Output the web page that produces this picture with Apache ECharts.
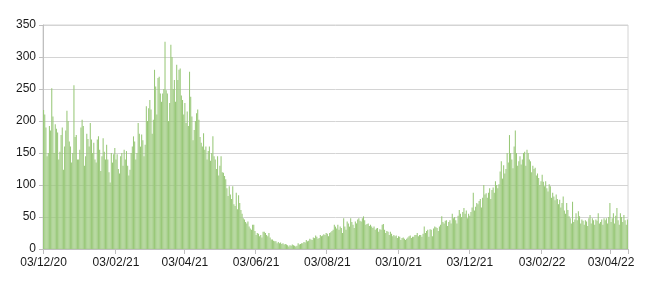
<!DOCTYPE html>
<html>
<head>
<meta charset="utf-8">
<script src="https://cdn.jsdelivr.net/npm/echarts@6/dist/echarts.min.js"></script>
<style>html,body{margin:0;padding:0;background:#fff}#c{width:650px;height:284px}</style>
</head>
<body>
<div id="c"></div>
<script>
// First date of the daily series and the dates whose labels are shown
var startDate = [2020, 12, 3];
var tickLabels = ['03/12/20','03/02/21','03/04/21','03/06/21','03/08/21','03/10/21','03/12/21','03/02/22','03/04/22'];
var yTicks = [0, 50, 100, 150, 200, 250, 300, 350];

// Daily values (03/12/20 .. 17/04/22)
var values = [
217,210,190,145,150,192,185,251,207,150,
195,188,182,140,152,178,190,124,160,185,
216,200,168,160,135,150,256,175,178,140,
140,155,190,202,192,130,145,180,172,160,
197,171,150,166,140,135,171,176,155,122,
145,173,152,140,163,140,120,104,150,135,
148,158,140,148,125,118,145,150,130,155,
140,153,130,115,124,150,160,176,168,140,
150,197,180,160,179,170,145,163,223,200,
220,233,218,180,202,280,254,210,267,269,
243,230,243,250,324,248,243,200,228,319,
300,250,264,230,288,264,280,282,240,233,
210,228,197,215,192,277,238,207,170,186,
200,212,218,202,175,166,160,181,155,160,
140,153,160,138,150,176,145,140,125,145,
115,130,145,120,119,114,109,95,83,98,
85,78,98,70,67,88,62,84,72,61,
55,48,46,42,40,43,35,32,30,38,
38,28,22,25,24,20,22,18,27,27,
25,22,20,25,18,15,15,13,12,12,
9,11,9,10,8,9,7,8,7,6,
4,6,5,7,6,5,4,5,9,7,
8,9,9,11,10,14,12,13,16,15,
14,18,17,21,19,16,17,22,20,21,
23,22,25,24,20,25,26,28,30,38,
35,32,38,30,35,33,25,48,35,30,
43,40,35,48,42,38,33,43,40,46,
48,44,43,48,51,45,38,39,40,36,
38,35,33,35,30,32,33,27,31,30,
38,39,30,25,28,27,22,27,24,20,
22,20,21,17,20,19,14,17,18,16,
14,16,18,20,21,17,19,19,22,22,
25,20,22,22,19,24,35,25,28,30,
19,31,30,20,32,35,34,33,28,35,
38,51,42,40,44,45,36,42,45,40,
55,48,50,45,40,52,61,55,50,58,
64,55,60,48,55,52,58,65,88,60,
66,72,70,75,78,65,80,100,85,87,
80,88,95,78,92,96,88,106,100,95,
101,121,137,110,131,118,125,150,135,178,
150,140,126,160,185,150,130,137,145,132,
140,150,152,130,155,150,140,137,120,130,
125,127,115,118,111,100,106,116,105,98,
106,95,90,101,98,80,88,82,76,85,
78,70,77,65,72,82,60,55,72,61,
51,48,40,74,42,46,56,45,59,51,
40,46,44,38,45,43,36,48,53,40,
48,45,38,46,44,56,40,42,46,38,
48,45,48,40,50,72,42,48,56,40,
52,64,45,38,56,50,42,53,45,38,
46
];

function pad(n){return (n<10?'0':'')+n;}
var categories = [];
(function(){
  var d = new Date(Date.UTC(startDate[0], startDate[1]-1, startDate[2]));
  for (var i = 0; i < values.length; i++) {
    categories.push(pad(d.getUTCDate())+'/'+pad(d.getUTCMonth()+1)+'/'+String(d.getUTCFullYear()).slice(2));
    d.setUTCDate(d.getUTCDate()+1);
  }
})();
function isTick(idx, val){ return tickLabels.indexOf(categories[idx]) >= 0; }

var chart = echarts.init(document.getElementById('c'), null, {renderer:'canvas'});
chart.setOption({
  animation: false,
  backgroundColor: '#ffffff',
  grid: {left: 43, right: 22, top: 25, bottom: 35, show: true, borderColor: '#d4d4d4', borderWidth: 1},
  xAxis: {
    type: 'category',
    data: categories,
    boundaryGap: true,
    axisLine: {lineStyle: {color: '#bfbfbf', width: 1}},
    axisTick: {show: true, interval: isTick, length: 5, lineStyle: {color: '#bfbfbf'}},
    axisLabel: {interval: isTick, color: '#1a1a1a', fontFamily: 'Liberation Sans', fontSize: 12, margin: 8, hideOverlap: false},
    splitLine: {show: false}
  },
  yAxis: {
    type: 'value',
    min: yTicks[0], max: yTicks[yTicks.length-1], interval: 50,
    axisLine: {show: true, lineStyle: {color: '#bfbfbf'}},
    axisTick: {show: true, length: 4, lineStyle: {color: '#bfbfbf'}},
    axisLabel: {color: '#1a1a1a', fontFamily: 'Liberation Sans', fontSize: 12, margin: 7},
    splitLine: {lineStyle: {color: '#d4d4d4', width: 1}}
  },
  series: [{
    type: 'bar',
    data: values,
    barCategoryGap: '10%',
    itemStyle: {color: '#99c879'},
    large: false
  }]
});
</script>
</body>
</html>
